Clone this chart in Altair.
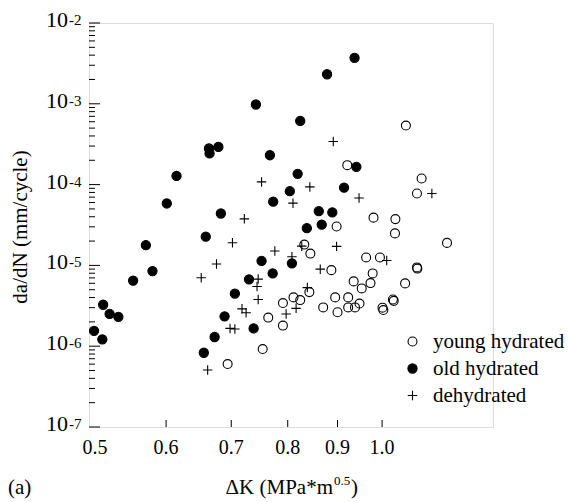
import altair as alt
import pandas as pd

# ---- data (ΔK in MPa*m^0.5, da/dN in mm/cycle) ----
series_names = ["young hydrated", "old hydrated", "dehydrated"]

young_x = [1.058, 0.921, 1.098, 1.086, 0.980, 1.032, 1.031, 0.898, 1.166, 0.832,
           0.844, 0.963, 0.995, 1.086, 1.087, 0.887, 0.978, 1.056, 0.935, 0.973,
           0.953, 0.842, 0.811, 0.824, 0.791, 0.764, 0.791, 0.754, 0.694, 0.870,
           0.895, 0.923, 0.900, 0.923, 0.938, 0.948, 1.026, 1.028, 1.001, 1.003]
young_y = [5.38e-4, 1.74e-4, 1.19e-4, 7.77e-5, 3.90e-5, 3.74e-5, 2.49e-5, 3.03e-5, 1.90e-5, 1.81e-5,
           1.40e-5, 1.255e-5, 1.255e-5, 9.44e-6, 9.13e-6, 8.74e-6, 7.96e-6, 5.99e-6, 6.34e-6, 6.04e-6,
           5.19e-6, 4.67e-6, 4.02e-6, 3.72e-6, 3.42e-6, 2.26e-6, 1.80e-6, 9.22e-7, 6.01e-7, 3.02e-6,
           4.02e-6, 4.02e-6, 2.63e-6, 3.02e-6, 3.02e-6, 3.37e-6, 3.78e-6, 3.64e-6, 3.00e-6, 2.80e-6]

old_x = [0.937, 0.878, 0.742, 0.824, 0.664, 0.679, 0.665, 0.767, 0.615, 0.819,
         0.941, 0.914, 0.804, 0.601, 0.773, 0.683, 0.861, 0.889, 0.837, 0.867,
         0.659, 0.572, 0.752, 0.808, 0.581, 0.772, 0.555, 0.730, 0.706, 0.517,
         0.525, 0.536, 0.689, 0.506, 0.516, 0.673, 0.738, 0.656]
old_y = [3.71e-3, 2.32e-3, 9.8e-4, 6.14e-4, 2.80e-4, 2.93e-4, 2.43e-4, 2.31e-4, 1.28e-4, 1.36e-4,
         1.66e-4, 9.16e-5, 8.29e-5, 5.84e-5, 6.15e-5, 4.39e-5, 4.69e-5, 4.53e-5, 2.89e-5, 3.19e-5,
         2.27e-5, 1.78e-5, 1.136e-5, 1.06e-5, 8.50e-6, 7.96e-6, 6.48e-6, 6.73e-6, 4.48e-6, 3.26e-6,
         2.51e-6, 2.31e-6, 2.34e-6, 1.55e-6, 1.215e-6, 1.30e-6, 1.66e-6, 8.30e-7]

dehyd_x = [0.891, 0.752, 0.843, 0.947, 1.125, 0.810, 0.722, 0.702, 0.776, 0.827,
           0.898, 0.808, 0.864, 0.676, 0.652, 0.746, 0.744, 0.838, 1.011, 0.746,
           0.718, 0.725, 0.698, 0.706, 0.797, 0.816, 0.662]
dehyd_y = [3.41e-4, 1.08e-4, 9.37e-5, 6.83e-5, 7.77e-5, 5.89e-5, 3.77e-5, 1.91e-5, 1.51e-5, 1.73e-5,
           1.72e-5, 1.28e-5, 8.99e-6, 1.04e-5, 7.02e-6, 6.77e-6, 5.47e-6, 5.31e-6, 1.15e-5, 3.78e-6,
           2.90e-6, 2.59e-6, 1.66e-6, 1.63e-6, 2.50e-6, 2.94e-6, 5.07e-7]

x_tick_values = [0.5, 0.6, 0.7, 0.8, 0.9, 1.0]
y_exponents = [-2, -3, -4, -5, -6, -7]
minor_multipliers = [2, 3, 4, 5, 6, 7, 8, 9]

x_title_main = "ΔK (MPa*m"
x_title_sup = "0.5"
x_title_end = ")"
y_title = "da/dN (mm/cycle)"
panel_label = "(a)"

# ---- tables ----
df = pd.concat([
    pd.DataFrame({"dK": young_x, "rate": young_y, "series": series_names[0]}),
    pd.DataFrame({"dK": old_x, "rate": old_y, "series": series_names[1]}),
    pd.DataFrame({"dK": dehyd_x, "rate": dehyd_y, "series": series_names[2]}),
], ignore_index=True)

y_major = pd.DataFrame({"v": [10.0 ** e for e in y_exponents],
                        "base": ["10"] * len(y_exponents),
                        "exp": [str(e) for e in y_exponents]})
y_minor = pd.DataFrame({"v": [m * 10.0 ** e for e in y_exponents[1:] for m in minor_multipliers]})
x_major = pd.DataFrame({"v": x_tick_values, "lab": [f"{v:.1f}" for v in x_tick_values]})

FONT = "Liberation Serif"
W, H = 404, 404

xs = alt.Scale(type="log", domain=[0.5, 1.3], nice=False)
ys = alt.Scale(type="log", domain=[1e-7, 1e-2], nice=False)

leg = alt.Legend(title=None, orient="none", legendX=313, legendY=308,
                 labelFont=FONT, labelFontSize=21, labelColor="black",
                 labelOffset=10, rowPadding=5, padding=0,
                 symbolStrokeColor="black", symbolStrokeWidth=1.1)

points = alt.Chart(df).mark_point(strokeWidth=1.1, opacity=1).encode(
    x=alt.X("dK:Q", scale=xs,
            axis=alt.Axis(labels=False, title=None, ticks=False, grid=False,
                          domainColor="black", domainWidth=1.2)),
    y=alt.Y("rate:Q", scale=ys,
            axis=alt.Axis(labels=False, ticks=False, grid=False, title=None,
                          domainColor="black", domainWidth=1.2)),
    shape=alt.Shape("series:N", scale=alt.Scale(domain=series_names,
                    range=["circle", "circle", "M-1,0L1,0M0,-1L0,1"]), legend=leg),
    fill=alt.Fill("series:N", scale=alt.Scale(domain=series_names,
                  range=["transparent", "black", "transparent"]), legend=leg),
    stroke=alt.Stroke("series:N", scale=alt.Scale(domain=series_names,
                      range=["black", "black", "black"]), legend=leg),
    size=alt.Size("series:N", scale=alt.Scale(domain=series_names, range=[80, 90, 121]), legend=leg),
)

y_major_ticks = alt.Chart(y_major).mark_rule(color="black", strokeWidth=1).encode(
    y=alt.Y("v:Q", scale=ys, axis=None), x=alt.value(0), x2=alt.value(11))
y_minor_ticks = alt.Chart(y_minor).mark_rule(color="black", strokeWidth=1).encode(
    y=alt.Y("v:Q", scale=ys, axis=None), x=alt.value(0), x2=alt.value(6))
x_major_ticks = alt.Chart(x_major).transform_filter("datum.v > 0.55").mark_rule(
    color="black", strokeWidth=1).encode(
    x=alt.X("v:Q", scale=xs, axis=None), y=alt.value(H), y2=alt.value(H - 7))

x_labels = alt.Chart(x_major).transform_filter("datum.v > 0.55").mark_text(
    align="center", baseline="alphabetic", font=FONT, fontSize=20, color="black").encode(
    x=alt.X("v:Q", scale=xs, axis=None), y=alt.value(H + 27), text="lab:N")
x_label_first = alt.Chart(x_major).transform_filter("datum.v < 0.55").mark_text(
    align="center", baseline="alphabetic", font=FONT, fontSize=20, color="black", dx=6).encode(
    x=alt.X("v:Q", scale=xs, axis=None), y=alt.value(H + 27), text="lab:N")

y_base = alt.Chart(y_major).mark_text(align="right", baseline="alphabetic", font=FONT,
                                      fontSize=22, color="black", dy=4).encode(
    y=alt.Y("v:Q", scale=ys, axis=None), x=alt.value(-21), text="base:N")
y_exp = alt.Chart(y_major).mark_text(align="left", baseline="alphabetic", font=FONT,
                                     fontSize=15, color="black", dy=2).encode(
    y=alt.Y("v:Q", scale=ys, axis=None), x=alt.value(-20), text="exp:N")

def label(txt, x, y, size, align="left", angle=0):
    return alt.Chart(pd.DataFrame({"t": [txt]})).mark_text(
        align=align, baseline="alphabetic", font=FONT, fontSize=size, color="black", angle=angle
    ).encode(text="t:N", x=alt.value(x), y=alt.value(y))

xt1 = label(x_title_main, 244, 471, 21, align="right")
xt2 = label(x_title_sup, 245, 462, 13)
xt3 = label(x_title_end, 262, 471, 21)
yt = label(y_title, -62, 204, 21, align="center", angle=270)
pl = label(panel_label, -81, 471, 21)

chart = alt.layer(points, y_major_ticks, y_minor_ticks, x_major_ticks, x_labels, x_label_first,
                  y_base, y_exp, xt1, xt2, xt3, yt, pl).properties(
    width=W, height=H,
    autosize=alt.AutoSizeParams(type="none"),
    padding={"left": 89, "top": 23, "right": 75, "bottom": 75},
).configure_view(stroke=None).configure(background="white")

chart.save("out.html", embed_options={"renderer": "svg", "actions": False})
